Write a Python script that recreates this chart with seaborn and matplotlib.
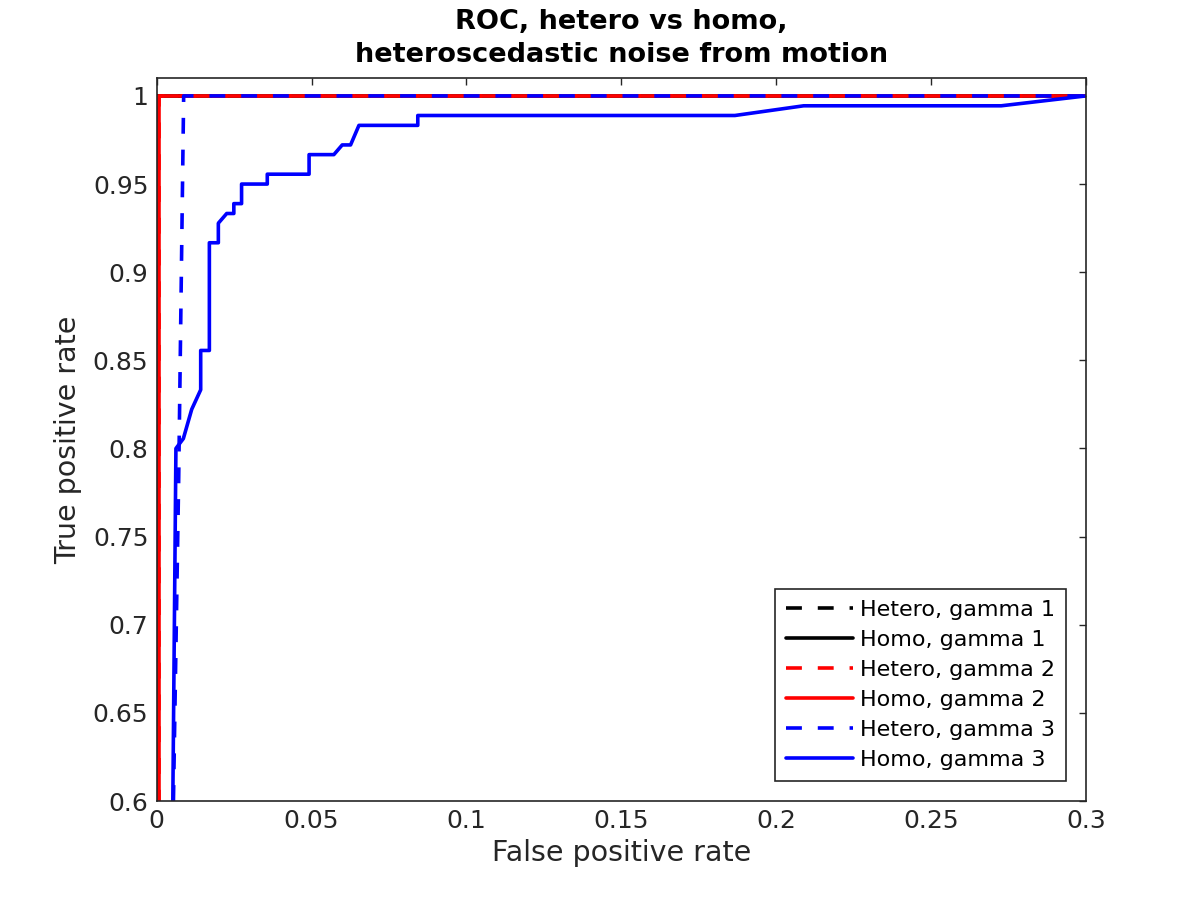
import numpy as np
import pandas as pd
import matplotlib
matplotlib.use("Agg")
import matplotlib.pyplot as plt
import seaborn as sns

# ---- data ----
labels = ["Hetero, gamma 1", "Homo, gamma 1", "Hetero, gamma 2",
          "Homo, gamma 2", "Hetero, gamma 3", "Homo, gamma 3"]

black_dash_fpr = [0.0, 0.0, 0.3]
black_dash_tpr = [0.0, 1.0, 1.0]
black_solid_fpr = [0.0, 0.0, 0.3]
black_solid_tpr = [0.0, 1.0, 1.0]

red_dash_fpr = [0.0007, 0.0007, 0.3]
red_dash_tpr = [0.0, 1.0, 1.0]
red_solid_fpr = [0.0007, 0.0007, 0.3]
red_solid_tpr = [0.0, 1.0, 1.0]

blue_dash_fpr = [0.0054, 0.0071, 0.0087, 0.3]
blue_dash_tpr = [0.6, 0.7837, 1.0, 1.0]

blue_solid_fpr = [0.0052, 0.0062, 0.0086, 0.0113, 0.0142, 0.0142, 0.0170, 0.0170,
                  0.0199, 0.0199, 0.0226, 0.0249, 0.0249, 0.0274, 0.0274, 0.0357,
                  0.0357, 0.0492, 0.0492, 0.0572, 0.0599, 0.0626, 0.0653, 0.0843,
                  0.0843, 0.1867, 0.2089, 0.2727, 0.3]
blue_solid_tpr = [0.6, 0.8, 0.8056, 0.8222, 0.8333, 0.8556, 0.8556, 0.9167,
                  0.9167, 0.9278, 0.9333, 0.9333, 0.9389, 0.9389, 0.95, 0.95,
                  0.9556, 0.9556, 0.9667, 0.9667, 0.9722, 0.9722, 0.9833, 0.9833,
                  0.9889, 0.9889, 0.9944, 0.9944, 1.0]

x_ticks = [0, 0.05, 0.1, 0.15, 0.2, 0.25, 0.3]
x_ticklabels = ["0", "0.05", "0.1", "0.15", "0.2", "0.25", "0.3"]
y_ticks = [0.6, 0.65, 0.7, 0.75, 0.8, 0.85, 0.9, 0.95, 1.0]
y_ticklabels = ["0.6", "0.65", "0.7", "0.75", "0.8", "0.85", "0.9", "0.95", "1"]

series = [
    (black_dash_fpr, black_dash_tpr, "black", "dash"),
    (black_solid_fpr, black_solid_tpr, "black", "solid"),
    (red_dash_fpr, red_dash_tpr, "red", "dash"),
    (red_solid_fpr, red_solid_tpr, "red", "solid"),
    (blue_dash_fpr, blue_dash_tpr, "blue", "dash"),
    (blue_solid_fpr, blue_solid_tpr, "blue", "solid"),
]

sns.set_theme(style="white")
plt.rcParams["font.family"] = ["DejaVu Sans"]

dark = (0.15, 0.15, 0.15)
fig = plt.figure(figsize=(12, 9), dpi=100)
ax = fig.add_axes([0.1306, 0.11, 0.7742, 0.803])

lw = 2.6
for (fx, ty, col, sty), lab in zip(series, labels):
    df = pd.DataFrame({"fpr": fx, "tpr": ty})
    ls = (0, (4.4, 4.4)) if sty == "dash" else "-"
    sns.lineplot(data=df, x="fpr", y="tpr", sort=False, estimator=None,
                 color=col, linewidth=lw, linestyle=ls, label=lab, ax=ax)

ax.set_xlim(0, 0.3)
ax.set_ylim(0.6, 1.01)
ax.set_xticks(x_ticks)
ax.set_xticklabels(x_ticklabels)
ax.set_yticks(y_ticks)
ax.set_yticklabels(y_ticklabels)

ax.tick_params(direction="in", top=True, right=True, length=5, width=1,
               colors=dark, labelsize=18, pad=6)
for sp in ax.spines.values():
    sp.set_visible(True)
    sp.set_color(dark)
    sp.set_linewidth(1.2)

ax.set_xlabel("False positive rate", fontsize=20.5, color=dark, labelpad=4)
ax.set_ylabel("True positive rate", fontsize=20.5, color=dark, labelpad=8)
ax.set_title("ROC, hetero vs homo,\nheteroscedastic noise from motion",
             fontsize=19.5, fontweight="bold", color="black", pad=12,
             linespacing=1.35)

leg = ax.legend(loc="lower right", fontsize=16, frameon=True, fancybox=False,
                framealpha=1, edgecolor=dark, handlelength=3.0,
                handletextpad=0.3, labelspacing=0.45, borderpad=0.5,
                borderaxespad=0.9)
leg.get_frame().set_linewidth(1.2)
for t in leg.get_texts():
    t.set_color("black")

fig.savefig("out.png", dpi=100)
